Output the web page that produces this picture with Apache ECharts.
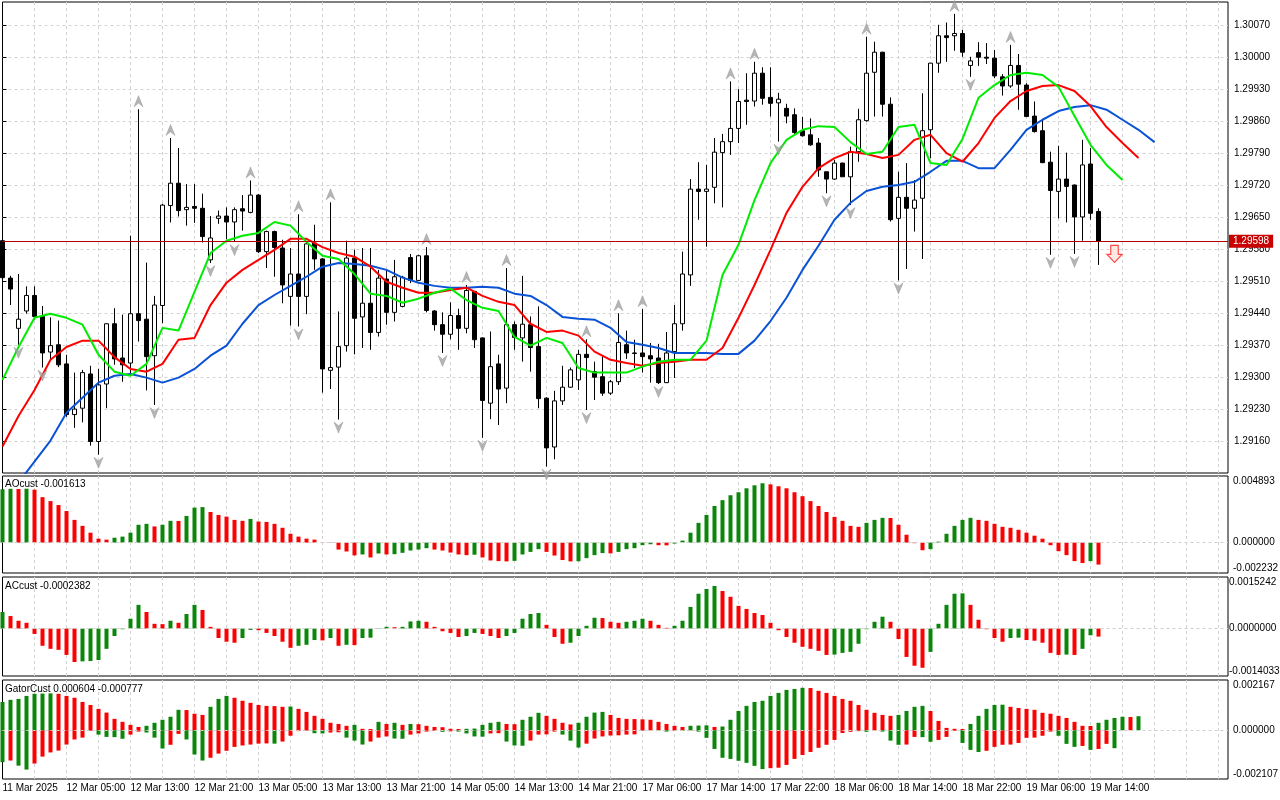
<!DOCTYPE html>
<html><head><meta charset="utf-8">
<script src="https://cdn.jsdelivr.net/npm/echarts@6/dist/echarts.min.js"></script>
<style>html,body{margin:0;padding:0;background:#fff}#c{width:1280px;height:800px}</style>
</head><body><div id="c"></div>
<script>
const xTickLabels = ["11 Mar 2025","12 Mar 05:00","12 Mar 13:00","12 Mar 21:00","13 Mar 05:00","13 Mar 13:00","13 Mar 21:00","14 Mar 05:00","14 Mar 13:00","14 Mar 21:00","17 Mar 06:00","17 Mar 14:00","17 Mar 22:00","18 Mar 06:00","18 Mar 14:00","18 Mar 22:00","19 Mar 06:00","19 Mar 14:00"];

const opens = [1.29599,1.29517,1.29407,1.29445,1.29479,1.29433,1.29355,1.29371,1.29329,1.29218,
1.29232,1.29307,1.29159,1.29285,1.29417,1.29342,1.29331,1.29439,1.29427,1.29347,
1.29457,1.29676,1.29725,1.29667,1.29674,1.29670,1.29557,1.29648,1.29653,1.29640,
1.29669,1.29661,1.29699,1.29575,1.29619,1.29583,1.29477,1.29526,1.29477,1.29594,
1.29559,1.29315,1.29322,1.29369,1.29561,1.29432,1.29462,1.29398,1.29515,1.29442,
1.29455,1.29562,1.29512,1.29566,1.29445,1.29415,1.29394,1.29435,1.29407,1.29488,
1.29386,1.29243,1.29329,1.29276,1.29415,1.29386,1.29415,1.29367,1.29254,1.29147,
1.29248,1.29278,1.29294,1.29350,1.29312,1.29301,1.29265,1.29290,1.29371,1.29353,
1.29353,1.29347,1.29342,1.29288,1.29356,1.29417,1.29524,1.29712,1.29707,1.29716,
1.29792,1.29816,1.29845,1.29907,1.29905,1.29966,1.29913,1.29901,1.29889,1.29875,
1.29840,1.29831,1.29813,1.29750,1.29734,1.29769,1.29739,1.29794,1.29862,1.29968,
1.30012,1.29898,1.29648,1.29694,1.29670,1.29692,1.29842,1.29988,1.30048,1.30048,
1.30053,1.29983,1.30011,1.30001,1.29999,1.29958,1.29938,1.29983,1.29940,1.29872,
1.29840,1.29771,1.29707,1.29734,1.29721,1.29651,1.29767,1.29663];
const highs = [1.29601,1.29522,1.29526,1.29499,1.29499,1.29456,1.29431,1.29424,1.29349,1.29310,
1.29316,1.29325,1.29318,1.29418,1.29451,1.29437,1.29610,1.29887,1.29551,1.29478,
1.29680,1.29824,1.29802,1.29723,1.29723,1.29702,1.29653,1.29665,1.29672,1.29672,
1.29699,1.29731,1.29701,1.29621,1.29621,1.29601,1.29583,1.29657,1.29597,1.29634,
1.29561,1.29683,1.29444,1.29599,1.29579,1.29583,1.29583,1.29535,1.29537,1.29557,
1.29522,1.29570,1.29568,1.29585,1.29447,1.29442,1.29464,1.29450,1.29502,1.29489,
1.29387,1.29400,1.29349,1.29539,1.29422,1.29522,1.29433,1.29455,1.29256,1.29270,
1.29325,1.29321,1.29360,1.29383,1.29334,1.29347,1.29294,1.29440,1.29402,1.29382,
1.29449,1.29375,1.29373,1.29399,1.29458,1.29575,1.29734,1.29771,1.29765,1.29824,
1.29833,1.29948,1.29931,1.29966,1.29991,1.29979,1.29979,1.29923,1.29899,1.29889,
1.29870,1.29867,1.29824,1.29750,1.29776,1.29770,1.29805,1.29888,1.30046,1.30035,
1.30013,1.29913,1.29750,1.29769,1.29732,1.29922,1.29988,1.30072,1.30077,1.30096,
1.30061,1.30002,1.30034,1.30032,1.30017,1.29964,1.30028,1.30008,1.29944,1.29904,
1.29865,1.29794,1.29807,1.29792,1.29722,1.29820,1.29802,1.29670];
const lows = [1.29507,1.29458,1.29371,1.29439,1.29426,1.29321,1.29338,1.29322,1.29213,1.29189,
1.29201,1.29150,1.29130,1.29232,1.29327,1.29290,1.29309,1.29378,1.29271,1.29239,
1.29418,1.29639,1.29652,1.29632,1.29638,1.29595,1.29550,1.29636,1.29602,1.29596,
1.29621,1.29659,1.29572,1.29539,1.29520,1.29462,1.29413,1.29411,1.29438,1.29535,
1.29266,1.29274,1.29207,1.29356,1.29350,1.29364,1.29360,1.29389,1.29415,1.29422,
1.29453,1.29506,1.29511,1.29442,1.29402,1.29353,1.29383,1.29360,1.29396,1.29364,
1.29167,1.29208,1.29195,1.29243,1.29360,1.29334,1.29312,1.29232,1.29104,1.29120,
1.29239,1.29277,1.29272,1.29228,1.29250,1.29259,1.29261,1.29283,1.29340,1.29320,
1.29310,1.29288,1.29285,1.29287,1.29298,1.29402,1.29500,1.29645,1.29586,1.29681,
1.29672,1.29787,1.29813,1.29853,1.29893,1.29897,1.29871,1.29816,1.29856,1.29833,
1.29827,1.29807,1.29739,1.29703,1.29732,1.29739,1.29677,1.29772,1.29860,1.29871,
1.29871,1.29641,1.29512,1.29537,1.29619,1.29559,1.29780,1.29967,1.29991,1.30015,
1.30002,1.29958,1.29982,1.29986,1.29955,1.29917,1.29934,1.29886,1.29870,1.29836,
1.29769,1.29568,1.29648,1.29639,1.29570,1.29599,1.29645,1.29546];
const closes = [1.29518,1.29493,1.29427,1.29479,1.29433,1.29353,1.29369,1.29327,1.29218,1.29230,
1.29310,1.29159,1.29283,1.29417,1.29340,1.29327,1.29439,1.29424,1.29345,1.29458,
1.29677,1.29725,1.29665,1.29672,1.29670,1.29608,1.29605,1.29653,1.29640,1.29667,
1.29664,1.29699,1.29575,1.29619,1.29584,1.29502,1.29526,1.29477,1.29592,1.29559,
1.29318,1.29321,1.29367,1.29561,1.29429,1.29462,1.29398,1.29517,1.29442,1.29520,
1.29519,1.29512,1.29566,1.29446,1.29415,1.29394,1.29435,1.29407,1.29490,1.29382,
1.29249,1.29323,1.29274,1.29415,1.29387,1.29416,1.29365,1.29253,1.29145,1.29248,
1.29278,1.29316,1.29350,1.29343,1.29300,1.29265,1.29290,1.29376,1.29353,1.29352,
1.29345,1.29340,1.29288,1.29353,1.29417,1.29526,1.29712,1.29707,1.29712,1.29793,
1.29816,1.29845,1.29904,1.29904,1.29966,1.29911,1.29900,1.29909,1.29872,1.29836,
1.29829,1.29809,1.29754,1.29734,1.29769,1.29739,1.29794,1.29864,1.29966,1.30012,
1.29898,1.29645,1.29694,1.29670,1.29688,1.29840,1.29988,1.30048,1.30044,1.30053,
1.30012,1.29993,1.30001,1.29999,1.29960,1.29938,1.29983,1.29942,1.29871,1.29838,
1.29770,1.29709,1.29734,1.29718,1.29651,1.29765,1.29659,1.29598];

// Alligator lines, read every 2nd bar (bar = 2*k)
const lineStep = 2;
const lips = [1.29294,1.29366,1.29430,1.29439,1.29430,1.29415,1.29349,1.29312,1.29303,1.29329,
1.29408,1.29402,1.29487,1.29572,1.29599,1.29610,1.29616,1.29640,1.29632,1.29596,
1.29566,1.29559,1.29526,1.29483,1.29478,1.29463,1.29472,1.29485,1.29494,1.29469,
1.29452,1.29445,1.29388,1.29369,1.29386,1.29375,1.29320,1.29310,1.29310,1.29310,
1.29323,1.29334,1.29338,1.29338,1.29380,1.29524,1.29590,1.29688,1.29769,1.29820,
1.29842,1.29850,1.29848,1.29815,1.29789,1.29794,1.29848,1.29853,1.29769,1.29765,
1.29822,1.29912,1.29940,1.29962,1.29967,1.29962,1.29936,1.29872,1.29809,1.29765,
1.29732];
const teeth = [1.29148,1.29215,1.29272,1.29338,1.29366,1.29380,1.29380,1.29344,1.29318,1.29312,
1.29329,1.29382,1.29386,1.29458,1.29507,1.29535,1.29557,1.29579,1.29603,1.29603,
1.29585,1.29572,1.29564,1.29542,1.29509,1.29496,1.29485,1.29485,1.29491,1.29496,
1.29478,1.29465,1.29458,1.29417,1.29399,1.29402,1.29391,1.29356,1.29338,1.29331,
1.29325,1.29331,1.29334,1.29338,1.29338,1.29364,1.29430,1.29502,1.29579,1.29660,
1.29717,1.29758,1.29780,1.29794,1.29789,1.29780,1.29787,1.29820,1.29831,1.29791,
1.29772,1.29813,1.29868,1.29905,1.29927,1.29938,1.29940,1.29927,1.29894,1.29848,
1.29813,1.29780];
const jaw = [1.29020,1.29069,1.29115,1.29161,1.29222,1.29255,1.29288,1.29303,1.29307,1.29299,
1.29288,1.29299,1.29318,1.29347,1.29369,1.29417,1.29458,1.29480,1.29500,1.29520,
1.29542,1.29550,1.29548,1.29544,1.29535,1.29518,1.29507,1.29500,1.29496,1.29496,
1.29498,1.29496,1.29483,1.29478,1.29458,1.29432,1.29428,1.29426,1.29408,1.29377,
1.29371,1.29364,1.29353,1.29353,1.29353,1.29351,1.29351,1.29380,1.29423,1.29474,
1.29535,1.29588,1.29645,1.29682,1.29708,1.29717,1.29721,1.29728,1.29750,1.29774,
1.29774,1.29758,1.29758,1.29798,1.29842,1.29864,1.29883,1.29892,1.29896,1.29886,
1.29864,1.29842,1.29815];

const aoValues = [0.00392,0.00395,0.00394,0.00396,0.00389,0.00334,0.00305,0.00276,0.00232,0.00167,
0.00123,0.00073,0.00029,0.00022,0.00036,0.00044,0.00073,0.00131,0.00138,0.00119,
0.00131,0.00160,0.00159,0.00196,0.00257,0.00261,0.00225,0.00203,0.00191,0.00167,
0.00160,0.00174,0.00155,0.00152,0.00138,0.00109,0.00065,0.00044,0.00029,0.00022,
0.00002,-0.00002,-0.00051,-0.00065,-0.00094,-0.00087,-0.00109,-0.00080,-0.00087,-0.00085,
-0.00075,-0.00058,-0.00051,-0.00041,-0.00051,-0.00058,-0.00073,-0.00087,-0.00092,-0.00089,
-0.00109,-0.00131,-0.00136,-0.00138,-0.00134,-0.00087,-0.00068,-0.00048,-0.00068,-0.00095,
-0.00128,-0.00138,-0.00137,-0.00114,-0.00092,-0.00077,-0.00079,-0.00068,-0.00048,-0.00041,
-0.00019,-0.00012,-0.00019,-0.00020,-0.00007,0.00015,0.00073,0.00145,0.00203,0.00269,
0.00312,0.00348,0.00370,0.00399,0.00421,0.00436,0.00428,0.00414,0.00399,0.00370,
0.00341,0.00305,0.00269,0.00225,0.00189,0.00160,0.00123,0.00116,0.00145,0.00167,
0.00182,0.00181,0.00131,0.00058,-0.00004,-0.00056,-0.00048,0.00007,0.00065,0.00123,
0.00167,0.00182,0.00167,0.00160,0.00138,0.00116,0.00109,0.00094,0.00073,0.00051,
0.00029,-0.00019,-0.00063,-0.00092,-0.00136,-0.00150,-0.00136,-0.001613];
const acValues = [0.00049,0.00037,0.00023,0.00017,-0.00016,-0.00051,-0.00060,-0.00063,-0.00078,-0.00099,
-0.00097,-0.00096,-0.00093,-0.00060,-0.00022,-0.00002,0.00029,0.00070,0.00049,0.00014,
0.00013,0.00023,0.00017,0.00043,0.00070,0.00055,0.00005,-0.00028,-0.00039,-0.00042,
-0.00028,-0.00004,-0.00005,-0.00013,-0.00022,-0.00039,-0.00057,-0.00051,-0.00048,-0.00034,
-0.00035,-0.00028,-0.00051,-0.00048,-0.00049,-0.00028,-0.00027,0.00001,0.00005,0.00004,
0.00005,0.00021,0.00023,0.00020,0.00005,-0.00008,-0.00013,-0.00025,-0.00022,-0.00013,
-0.00016,-0.00022,-0.00028,-0.00022,-0.00013,0.00029,0.00043,0.00046,0.00011,-0.00025,
-0.00045,-0.00042,-0.00022,0.00008,0.00032,0.00031,0.00020,0.00017,0.00020,0.00023,
0.00029,0.00023,0.00011,0.00002,0.00008,0.00023,0.00064,0.00103,0.00117,0.00126,
0.00111,0.00094,0.00067,0.00058,0.00046,0.00040,0.00017,-0.00005,-0.00025,-0.00042,
-0.00054,-0.00060,-0.00066,-0.00078,-0.00077,-0.00072,-0.00069,-0.00045,-0.00002,0.00020,
0.00035,0.00020,-0.00031,-0.00084,-0.00110,-0.00116,-0.00069,0.00014,0.00070,0.00103,
0.00104,0.00070,0.00026,-0.00002,-0.00028,-0.00039,-0.00028,-0.00027,-0.00034,-0.00036,
-0.00042,-0.00072,-0.00078,-0.00077,-0.00078,-0.00060,-0.00020,-0.0002382];
const gatorUpper = [0.00122,0.00131,0.00135,0.00148,0.00157,0.00158,0.00159,0.00157,0.00148,0.00140,
0.00122,0.00109,0.00092,0.00076,0.00049,0.00036,0.00023,0.00014,0.00019,0.00032,
0.00045,0.00058,0.00088,0.00087,0.00071,0.00066,0.00101,0.00135,0.00148,0.00140,
0.00127,0.00118,0.00109,0.00105,0.00104,0.00101,0.00102,0.00092,0.00079,0.00062,
0.00049,0.00032,0.00027,0.00019,0.00023,0.00006,0.00005,0.00036,0.00027,0.00032,
0.00023,0.00027,0.00026,0.00019,0.00014,0.00013,0.00006,0.00005,0.00006,0.00007,
0.00023,0.00032,0.00036,0.00027,0.00026,0.00045,0.00058,0.00075,0.00062,0.00049,
0.00032,0.00025,0.00032,0.00058,0.00076,0.00079,0.00066,0.00053,0.00049,0.00048,
0.00047,0.00045,0.00036,0.00027,0.00019,0.00014,0.00019,0.00020,0.00021,0.00014,
0.00016,0.00045,0.00083,0.00105,0.00122,0.00127,0.00148,0.00161,0.00174,0.00178,
0.00183,0.00182,0.00170,0.00161,0.00148,0.00135,0.00127,0.00109,0.00088,0.00075,
0.00066,0.00062,0.00066,0.00083,0.00101,0.00105,0.00083,0.00040,0.00010,0.00006,
0.00005,0.00027,0.00062,0.00092,0.00109,0.00110,0.00101,0.00096,0.00092,0.00088,
0.00075,0.00071,0.00062,0.00053,0.00036,0.00019,0.00018,0.00032,0.00045,0.00053,
0.00058,0.00057,0.000604];
const gatorLower = [-0.00138,-0.00131,-0.00153,-0.00170,-0.00144,-0.00114,-0.00096,-0.00088,-0.00062,-0.00040,
-0.00032,-0.00003,-0.00019,-0.00029,-0.00030,-0.00037,-0.00019,-0.00006,-0.00010,-0.00032,
-0.00079,-0.00063,-0.00016,-0.00040,-0.00105,-0.00131,-0.00119,-0.00101,-0.00089,-0.00072,
-0.00066,-0.00062,-0.00058,-0.00057,-0.00058,-0.00049,-0.00024,-0.00004,-0.00002,-0.00013,
-0.00014,-0.00010,-0.00009,-0.00032,-0.00045,-0.00062,-0.00049,-0.00032,-0.00027,-0.00036,
-0.00037,-0.00019,-0.00014,-0.00006,-0.00003,-0.00007,-0.00005,-0.00006,-0.00014,-0.00027,
-0.00028,-0.00014,-0.00013,-0.00049,-0.00066,-0.00067,-0.00045,-0.00019,-0.00018,-0.00006,
-0.00019,-0.00045,-0.00075,-0.00058,-0.00036,-0.00027,-0.00023,-0.00022,-0.00019,-0.00018,
-0.00002,-0.00001,-0.00002,-0.00006,-0.00002,-0.00003,-0.00001,-0.00006,-0.00033,-0.00081,
-0.00119,-0.00124,-0.00132,-0.00141,-0.00154,-0.00168,-0.00164,-0.00162,-0.00150,-0.00124,
-0.00107,-0.00094,-0.00076,-0.00063,-0.00042,-0.00012,-0.00007,-0.00004,-0.00007,-0.00002,
-0.00006,-0.00045,-0.00063,-0.00062,-0.00029,-0.00030,-0.00050,-0.00042,-0.00029,-0.00003,
-0.00055,-0.00085,-0.00094,-0.00089,-0.00072,-0.00063,-0.00062,-0.00055,-0.00033,-0.00032,
-0.00024,-0.00006,-0.00024,-0.00059,-0.00072,-0.00068,-0.00085,-0.00081,-0.00059,-0.000777];

const fractalUpBars = [17,21,31,37,41,53,58,63,73,77,80,91,94,108,119,126];
const fractalDownBars = [2,5,12,19,26,29,37,42,55,60,68,73,82,97,103,106,112,121,131,134];
const signalArrow = [139, 1.29570];

const priceMin = 1.29090, priceMax = 1.30122, priceStep = 0.0007;
const aoRange = [-0.002232, 0.004893];
const acRange = [-0.0014033, 0.0015242];
const gatorRange = [-0.002107, 0.002167];

const GREEN = '#0a870a', RED = '#ff0000', GRIDC = '#d2d2d2';
const FONT = 'Liberation Sans';
const XMAX = 153.1875;
const L = 2.5, R = 52;

const chart = echarts.init(document.getElementById('c'), null, {renderer: 'canvas'});

function xa(gi, labels) {
  return {
    type: 'value', gridIndex: gi, min: 0, max: XMAX, interval: 4,
    axisLine: {show: false}, axisTick: {show: false},
    splitLine: {show: true, showMinLine: false, showMaxLine: false, lineStyle: {color: GRIDC, type: [3, 3], width: 1}},
    axisLabel: labels ? {
      show: true, align: 'left', margin: 4, fontSize: 10, fontFamily: FONT, color: '#000',
      showMaxLabel: false,
      formatter: v => (Math.abs(v % 8) < 1e-9 && xTickLabels[Math.round(v / 8)]) || ''
    } : {show: false}
  };
}
function ya(gi, range, digits, margin) {
  return {
    type: 'value', gridIndex: gi, position: 'right', min: range[0], max: range[1], interval: -range[0],
    axisLine: {show: false}, axisTick: {show: false}, splitLine: {show: false},
    axisLabel: {
      fontSize: 10, fontFamily: FONT, color: '#000', margin: margin,
      verticalAlignMinLabel: 'bottom', verticalAlignMaxLabel: 'top',
      formatter: v => (Math.abs(v - range[0]) < 1e-10 || Math.abs(v) < 1e-10 || Math.abs(v - range[1]) < 1e-10) ? (Math.abs(v) < 1e-10 ? 0 : v).toFixed(digits) : ''
    }
  };
}
function gr(top, height) {
  return {left: L, right: R, top: top, height: height, show: true, borderColor: '#000', borderWidth: 1, containLabel: false, outerBoundsMode: 'none'};
}
const zeroLine = {silent: true, symbol: 'none', precision: 8, label: {show: false}, lineStyle: {color: '#cfcfcf', type: [3, 3], width: 1}, data: [{yAxis: 0}]};

const lastClose = closes[closes.length - 1];
const titleStyle = {fontSize: 10, fontWeight: 'normal', fontFamily: FONT, color: '#000'};

const option = {
  animation: false,
  backgroundColor: '#fff',
  title: [
    {text: 'AOcust ' + aoValues[aoValues.length - 1].toFixed(6), left: 5, top: 479, padding: 0, textStyle: titleStyle},
    {text: 'ACcust ' + acValues[acValues.length - 1].toFixed(7), left: 5, top: 581, padding: 0, textStyle: titleStyle},
    {text: 'GatorCust ' + gatorUpper[gatorUpper.length - 1].toFixed(6) + ' ' + gatorLower[gatorLower.length - 1].toFixed(6), left: 5, top: 684, padding: 0, textStyle: titleStyle}
  ],
  grid: [gr(2, 471), gr(476, 97), gr(577, 99), gr(680, 99)],
  xAxis: [xa(0, false), xa(1, false), xa(2, false), xa(3, true)],
  yAxis: [
    {
      type: 'value', gridIndex: 0, position: 'right', min: priceMin, max: priceMax, interval: priceStep,
      axisLine: {show: false},
      axisTick: {show: true, length: 4, lineStyle: {color: '#000'}},
      axisLabel: {showMinLabel: false, showMaxLabel: false, fontSize: 10, fontFamily: FONT, color: '#000', margin: 6, formatter: v => v.toFixed(5)},
      splitLine: {show: true, showMinLine: false, showMaxLine: false, lineStyle: {color: GRIDC, type: [3, 3], width: 1}}
    },
    ya(1, aoRange, 6, 5), ya(2, acRange, 7, 1), ya(3, gatorRange, 6, 5)
  ],
  series: [
    {
      type: 'candlestick', xAxisIndex: 0, yAxisIndex: 0, barWidth: 4, z: 2,
      encode: {x: 0, y: [1, 2, 3, 4]},
      data: opens.map((o, i) => [i, o, closes[i], lows[i], highs[i]]),
      itemStyle: {color: '#ffffff', color0: '#000000', borderColor: '#000000', borderColor0: '#000000', borderWidth: 1}
    },
    {type: 'line', xAxisIndex: 0, yAxisIndex: 0, z: 3, showSymbol: false, symbol: 'none', data: jaw.map((v, k) => [k * lineStep, v]), lineStyle: {color: '#0a52d6', width: 2}},
    {
      type: 'line', xAxisIndex: 0, yAxisIndex: 0, z: 3, showSymbol: false, symbol: 'none', data: teeth.map((v, k) => [k * lineStep, v]), lineStyle: {color: '#ff0000', width: 2},
      markLine: {
        silent: true, symbol: 'none', precision: 5,
        lineStyle: {color: '#b00000', width: 1, type: 'solid'},
        label: {show: true, position: 'end', distance: 1, formatter: lastClose.toFixed(5), backgroundColor: '#c80000', color: '#fff', fontSize: 10, fontFamily: FONT, padding: [2, 4, 1, 4]},
        data: [{yAxis: lastClose}]
      }
    },
    {type: 'line', xAxisIndex: 0, yAxisIndex: 0, z: 3, showSymbol: false, symbol: 'none', data: lips.map((v, k) => [k * lineStep, v]), lineStyle: {color: '#00ec00', width: 2}},
    {
      type: 'scatter', xAxisIndex: 0, yAxisIndex: 0, z: 4,
      symbol: 'path://M5,0 L10,12 L5,8 L0,12 Z', symbolSize: [9, 11], symbolOffset: [0, -8],
      itemStyle: {color: '#a3a3a3', borderColor: '#8c8c8c', borderWidth: 0.5},
      data: fractalUpBars.map(i => [i, highs[i]])
    },
    {
      type: 'scatter', xAxisIndex: 0, yAxisIndex: 0, z: 4,
      symbol: 'path://M0,0 L5,4 L10,0 L5,12 Z', symbolSize: [9, 11], symbolOffset: [0, 8],
      itemStyle: {color: '#a3a3a3', borderColor: '#8c8c8c', borderWidth: 0.5},
      data: fractalDownBars.map(i => [i, lows[i]])
    },
    {
      type: 'scatter', xAxisIndex: 0, yAxisIndex: 0, z: 5,
      symbol: 'path://M4,0 L12,0 L12,9 L16,9 L8,17 L0,9 L4,9 Z', symbolSize: [15, 17],
      itemStyle: {color: '#ffe4dc', borderColor: '#ff1a1a', borderWidth: 1.2},
      data: [signalArrow]
    },
    {
      type: 'bar', xAxisIndex: 1, yAxisIndex: 1, barWidth: 4,
      data: aoValues.map((v, i) => ({value: [i, v], itemStyle: {color: (i > 0 && v < aoValues[i - 1]) ? RED : GREEN}})),
      markLine: zeroLine
    },
    {
      type: 'bar', xAxisIndex: 2, yAxisIndex: 2, barWidth: 4,
      data: acValues.map((v, i) => ({value: [i, v], itemStyle: {color: (i > 0 && v < acValues[i - 1]) ? RED : GREEN}})),
      markLine: zeroLine
    },
    {
      type: 'bar', xAxisIndex: 3, yAxisIndex: 3, barWidth: 4, barGap: '-100%',
      data: gatorUpper.map((v, i) => ({value: [i, v], itemStyle: {color: (i > 0 && v < gatorUpper[i - 1]) ? RED : GREEN}})),
      markLine: zeroLine
    },
    {
      type: 'bar', xAxisIndex: 3, yAxisIndex: 3, barWidth: 4, barGap: '-100%',
      data: gatorLower.map((v, i) => ({value: [i, v], itemStyle: {color: (i > 0 && Math.abs(v) < Math.abs(gatorLower[i - 1])) ? RED : GREEN}}))
    }
  ]
};
chart.setOption(option);
</script>
</body></html>
